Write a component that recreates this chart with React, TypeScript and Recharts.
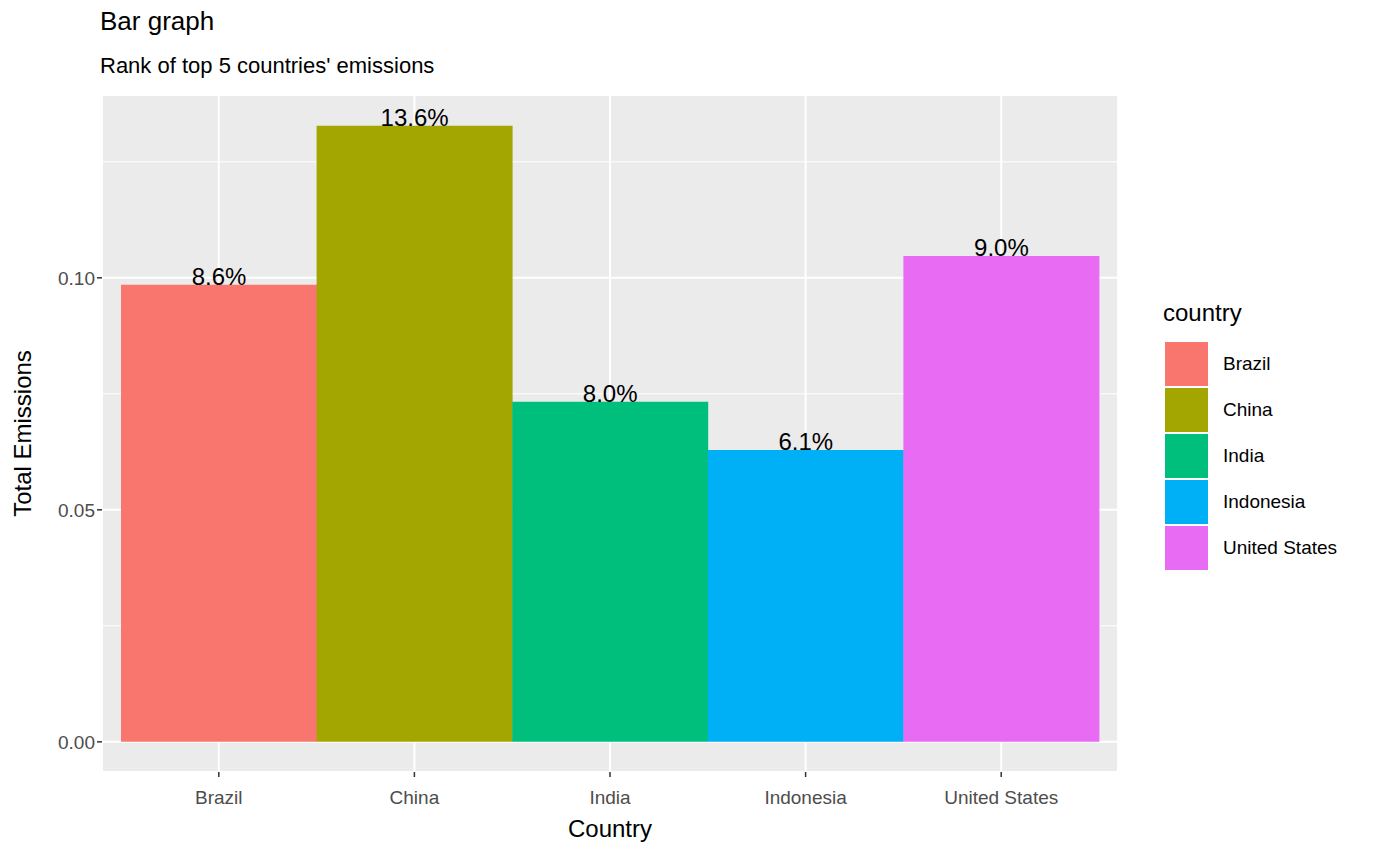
import React from "react";
import { ComposedChart, Bar, Cell, XAxis, YAxis, CartesianGrid, LabelList } from "recharts";

const countries = ["Brazil", "China", "India", "Indonesia", "United States"];
const emissions = [0.0985, 0.1328, 0.0733, 0.0629, 0.1047];
const pctLabels = ["8.6%", "13.6%", "8.0%", "6.1%", "9.0%"];
const colors = ["#F8766D", "#A3A500", "#00BF7D", "#00B0F6", "#E76BF3"];
const yTicks = [0, 0.05, 0.1];
const minorTicks = [0.025, 0.075, 0.125];

const data = countries.map((c, i) => ({ country: c, value: emissions[i], label: pctLabels[i] }));
const FONT = "'Liberation Sans', Arial, Helvetica, sans-serif";

const Lbl = (p: any) => (
  <text x={p.x + p.width / 2} y={p.y} textAnchor="middle" fontSize={24} fill="#000" fontFamily={FONT}>
    {p.value}
  </text>
);

export default function App() {
  return (
    <div style={{ position: "absolute", left: 0, top: 0, width: 1384, height: 856, background: "#fff", fontFamily: FONT }}>
      <div style={{ position: "absolute", left: 100, top: 6, fontSize: 26 }}>Bar graph</div>
      <div style={{ position: "absolute", left: 100, top: 53, fontSize: 22 }}>Rank of top 5 countries' emissions</div>
      <ComposedChart width={1384} height={856} data={data} margin={{ top: 95, right: 266, bottom: 0, left: 0 }} barCategoryGap={0}>
        <CartesianGrid fill="#EBEBEB" stroke="#fff" strokeWidth={2} horizontal={true} vertical={true} />
        <CartesianGrid stroke="#fff" strokeWidth={1} vertical={false} horizontalValues={minorTicks} />
        <XAxis
          dataKey="country"
          padding={{ left: 19, right: 19 }}
          height={84}
          axisLine={false}
          tickLine={{ stroke: "#333", strokeWidth: 1.5 }}
          tickSize={5}
          tick={{ fill: "#4D4D4D", fontSize: 19, fontFamily: FONT, dy: 12 }}
          label={{ value: "Country", position: "insideBottom", offset: 19, fill: "#000", fontSize: 24, fontFamily: FONT }}
        />
        <YAxis
          type="number"
          domain={[-0.0065, 0.1394]}
          ticks={yTicks}
          allowDataOverflow
          width={102}
          axisLine={false}
          tickLine={{ stroke: "#333", strokeWidth: 1.5 }}
          tickSize={5}
          tickFormatter={(v: number) => v.toFixed(2)}
          tick={{ fill: "#4D4D4D", fontSize: 19, fontFamily: FONT }}
          label={{ value: "Total Emissions", angle: -90, position: "insideLeft", offset: 22, style: { textAnchor: "middle" }, fill: "#000", fontSize: 24, fontFamily: FONT }}
        />
        <Bar dataKey="value" isAnimationActive={false}>
          {data.map((d, i) => (
            <Cell key={d.country} fill={colors[i]} />
          ))}
          <LabelList dataKey="label" content={Lbl} />
        </Bar>
      </ComposedChart>
      <div style={{ position: "absolute", left: 1163, top: 299, fontSize: 24 }}>country</div>
      {countries.map((c, i) => (
        <div key={c} style={{ position: "absolute", left: 1165, top: 341 + i * 46, height: 46, display: "flex", alignItems: "center" }}>
          <div style={{ width: 43, height: 44, background: colors[i] }} />
          <div style={{ marginLeft: 15, fontSize: 19 }}>{c}</div>
        </div>
      ))}
    </div>
  );
}
